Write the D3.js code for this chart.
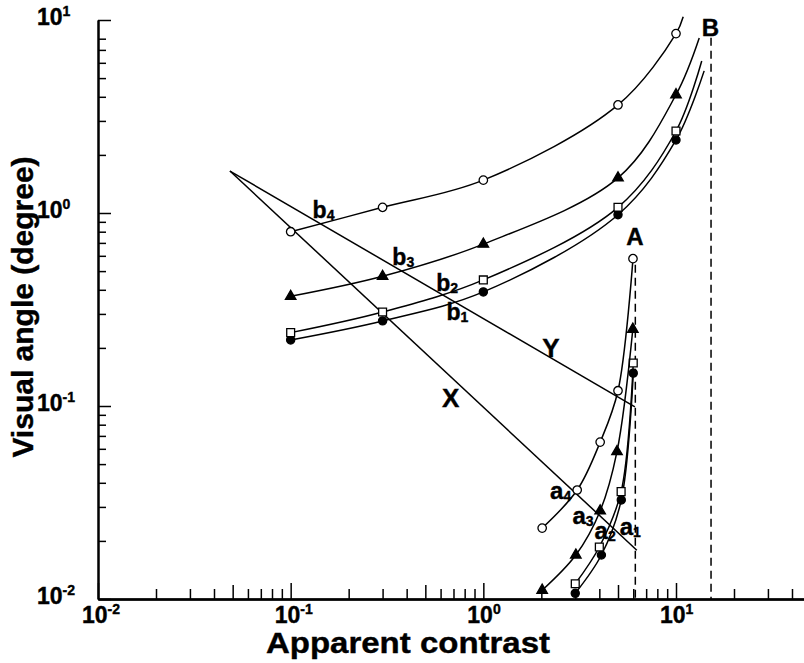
<!DOCTYPE html>
<html lang="en">
<head>
<meta charset="utf-8">
<title>Visual angle vs apparent contrast</title>
<script src="https://d3js.org/d3.v7.min.js"></script>
<style>
    body { margin: 0; background: #fff; }
    svg { display: block; font-family: "Liberation Sans", Arial, sans-serif; font-weight: bold; }
    svg text { stroke: #000; stroke-width: 0.4; }
    .curve { fill: none; stroke: #000; stroke-width: 1.5; }
    .guide { fill: none; stroke: #000; stroke-width: 1.5; stroke-dasharray: 8,5; }
    .axis path, .axis line { stroke: #000; }
    .axis path { stroke-width: 2; }
    .axis line { stroke-width: 1.5; }
</style>
</head>
<body>
<div id="chart"></div>
<script>
    // b series: contrast of the markers and the visual angle
    var bX = [0.1, 0.3, 1, 5, 10];
    var b1Y = [0.22, 0.276, 0.39, 0.98, 2.39];
    var b2Y = [0.24, 0.307, 0.45, 1.07, 2.66];
    var b3Y = [0.37, 0.47, 0.69, 1.52, 4.1];
    var b4Y = [0.80, 1.07, 1.48, 3.63, 8.5];
    // where each b curve runs out past its last marker (b1..b4)
    var bEndX = [14.0, 13.6, 13.2, 10.9];
    var bEndY = [5.45, 6.13, 8.07, 10.4];

    // a series
    var a1X = [3, 4.1, 5.2, 6.0];
    var a1Y = [0.0107, 0.0169, 0.0326, 0.148];
    var a2X = [3, 4, 5.19, 6.0];
    var a2Y = [0.012, 0.0186, 0.036, 0.167];
    var a3X = [2.02, 3.02, 4.04, 4.94, 5.97];
    var a3Y = [0.0111, 0.0169, 0.0286, 0.058, 0.25];
    var a4X = [2.02, 3.07, 4.04, 5.0, 5.98];
    var a4Y = [0.0233, 0.0367, 0.065, 0.12, 0.58];

    // straight lines X and Y from a common start
    var lineXx = [0.0484, 6.26], lineXy = [1.65, 0.0179];
    var lineYx = [0.0484, 6.12], lineYy = [1.65, 0.099];

    // vertical dashed limits A and B
    var dashAx = 6.15, dashAy = [0.54, 0.01];
    var dashBx = 15.2, dashBy = [8.1, 0.01];

    var decades = [-2, -1, 0, 1];
    var xTitle = "Apparent contrast";
    var yTitle = "Visual angle (degree)";

    // text annotations: [main, subscript, contrast, angle, size]
    var notes = [
        ["A", "", 5.51, 0.68, 24],
        ["B", "", 13.6, 8.26, 24],
        ["X", "", 0.61, 0.099, 26],
        ["Y", "", 2.02, 0.18, 26],
        ["b", "4", 0.13, 0.94, 23],
        ["b", "3", 0.337, 0.538, 23],
        ["b", "2", 0.57, 0.394, 23],
        ["b", "1", 0.643, 0.279, 23],
        ["a", "4", 2.22, 0.033, 24],
        ["a", "3", 2.9, 0.0245, 24],
        ["a", "2", 3.78, 0.0205, 24],
        ["a", "1", 5.1, 0.0215, 24]
    ];

    var w = 804, h = 663;

    var svg = d3.select("#chart").append("svg")
        .attr("width", w)
        .attr("height", h);

    var x = d3.scaleLog().domain([0.01, 10]).range([98, 676]);
    x.domain([0.01, x.invert(w)]).range([98, w]);
    var y = d3.scaleLog().domain([0.01, 10]).range([599, 20]);

    // tick values
    var minorX = [], midX = [], majorX = [];
    decades.forEach(function(k) {
        majorX.push(Math.pow(10, k));
        d3.range(2, 10).forEach(function(m) {
            var v = m * Math.pow(10, k);
            if (v > x.domain()[1]) return;
            if (m === 5) midX.push(v); else minorX.push(v);
        });
    });
    var minorY = [];
    decades.slice(0, 3).forEach(function(k) {
        d3.range(2, 10).forEach(function(m) {
            if (k === 0 && m === 9) return;
            minorY.push(m * Math.pow(10, k));
        });
    });

    var gx = svg.append("g").attr("class", "axis").attr("transform", "translate(0,599)");
    gx.call(d3.axisTop(x).tickValues(minorX).tickSize(10).tickSizeOuter(0).tickFormat(""));
    gx.append("g").call(d3.axisTop(x).tickValues(midX).tickSize(14).tickSizeOuter(0).tickFormat(""));
    gx.append("g").call(d3.axisTop(x).tickValues(majorX).tickSize(16).tickSizeOuter(0).tickFormat(""));

    var gy = svg.append("g").attr("class", "axis").attr("transform", "translate(98,0)");
    gy.call(d3.axisRight(y).tickValues(minorY).tickSize(8).tickSizeOuter(0).tickFormat(""));
    gy.append("g").call(d3.axisRight(y).tickValues(majorX).tickSize(13).tickSizeOuter(0).tickFormat(""));

    function powerLabel(sel, k) {
        sel.append("tspan").text("10");
        sel.append("tspan")
            .attr("font-size", 14)
            .attr("dy", -9)
            .text(k);
    }

    // tick labels
    decades.forEach(function(k) {
        var t = svg.append("text")
            .attr("x", x(Math.pow(10, k)) - 16)
            .attr("y", 623)
            .attr("font-size", 23);
        powerLabel(t, k);

        var ty = svg.append("text")
            .attr("x", 37)
            .attr("y", y(Math.pow(10, k)) + 5)
            .attr("font-size", 23);
        powerLabel(ty, k);
    });

    svg.append("text")
        .attr("x", 408)
        .attr("y", 653)
        .attr("text-anchor", "middle")
        .attr("font-size", 30)
        .attr("textLength", 284)
        .attr("lengthAdjust", "spacingAndGlyphs")
        .text(xTitle);

    svg.append("text")
        .attr("transform", "translate(33,307) rotate(-90)")
        .attr("text-anchor", "middle")
        .attr("font-size", 30)
        .text(yTitle);

    function pts(xs, ys) {
        return xs.map(function(v, i) { return [v, ys[i]]; });
    }

    var smooth = d3.line()
        .x(function(d) { return x(d[0]); })
        .y(function(d) { return y(d[1]); })
        .curve(d3.curveCatmullRom.alpha(0.5));
    var straight = d3.line()
        .x(function(d) { return x(d[0]); })
        .y(function(d) { return y(d[1]); });

    var bSeries = [b1Y, b2Y, b3Y, b4Y];
    var aSeries = [pts(a1X, a1Y), pts(a2X, a2Y), pts(a3X, a3Y), pts(a4X, a4Y)];
    var shapes = [d3.symbolCircle, d3.symbolSquare, d3.symbolTriangle, d3.symbolCircle];
    var sizes = [52, 62, 48, 56];
    var fills = ["#000", "#fff", "#000", "#fff"];

    // dashed limits
    svg.append("path").attr("class", "guide")
        .attr("d", straight(pts([dashAx, dashAx], dashAy)));
    svg.append("path").attr("class", "guide")
        .attr("d", straight(pts([dashBx, dashBx], dashBy)));

    // X and Y lines
    svg.append("path").attr("class", "curve").attr("d", straight(pts(lineXx, lineXy)));
    svg.append("path").attr("class", "curve").attr("d", straight(pts(lineYx, lineYy)));

    bSeries.forEach(function(ys, i) {
        var p = pts(bX, ys);
        svg.append("path").attr("class", "curve")
            .attr("d", smooth(p.concat([[bEndX[i], bEndY[i]]])));
        drawMarks(p, i);
    });

    aSeries.forEach(function(p, i) {
        svg.append("path").attr("class", "curve").attr("d", smooth(p));
        drawMarks(p, i);
    });

    function drawMarks(p, i) {
        svg.append("g").selectAll("path")
            .data(p)
            .join("path")
            .attr("transform", function(d) { return "translate(" + x(d[0]) + "," + y(d[1]) + ")"; })
            .attr("d", d3.symbol().type(shapes[i]).size(sizes[i]))
            .attr("fill", fills[i])
            .attr("stroke", "#000")
            .attr("stroke-width", 1.3);
    }

    notes.forEach(function(n) {
        var t = svg.append("text")
            .attr("x", x(n[2]))
            .attr("y", y(n[3]))
            .attr("font-size", n[4])
            .text(n[0]);
        if (n[1]) {
            t.append("tspan")
                .attr("font-size", 14)
                .attr("dy", 2)
                .text(n[1]);
        }
    });
</script>
</body>
</html>
